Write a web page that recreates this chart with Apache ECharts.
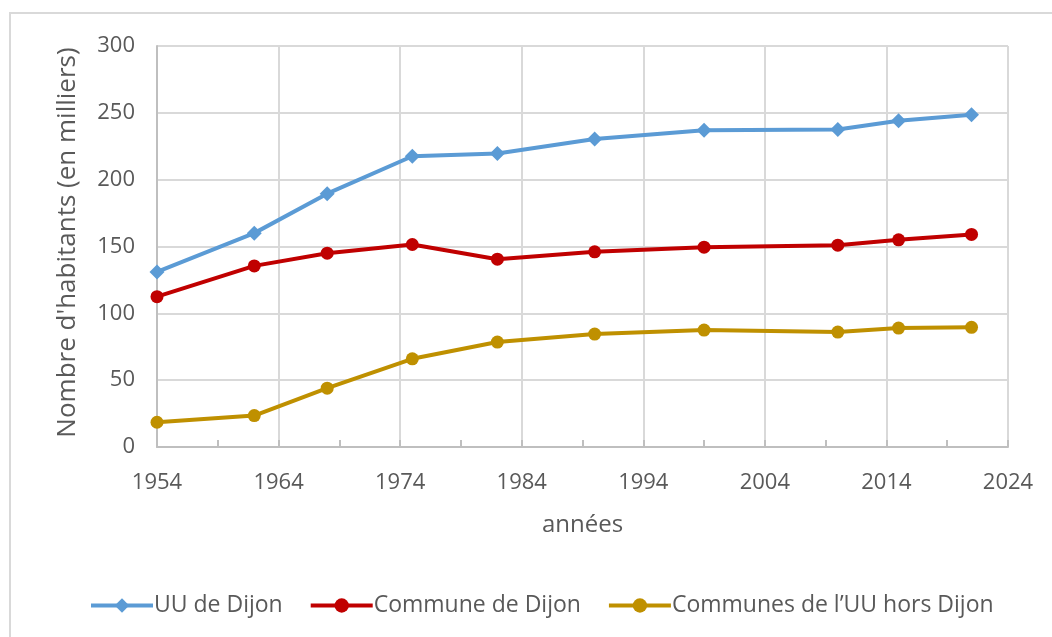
<!DOCTYPE html>
<html>
<head>
<meta charset="utf-8">
<script src="https://cdn.jsdelivr.net/npm/echarts@6/dist/echarts.min.js"></script>
<style>
html,body{margin:0;padding:0;background:#fff;}
#chart{width:1052px;height:637px;}
</style>
</head>
<body>
<div id="chart"></div>
<script>
const years = [1954, 1962, 1968, 1975, 1982, 1990, 1999, 2010, 2015, 2021];
const uuDijon = [131, 160, 189.5, 217.5, 219.5, 230.5, 237, 237.5, 244, 248.5];
const communeDijon = [112.5, 135.5, 145, 151.5, 140.5, 146, 149.5, 151, 155, 159];
const horsDijon = [18.5, 23.5, 44, 66, 78.5, 84.5, 87.5, 86, 89, 89.5];
const seriesNames = ['UU de Dijon', 'Commune de Dijon', 'Communes de l\u2019UU hors Dijon'];
const xAxisName = 'années';
const yAxisName = "Nombre d'habitants (en milliers)";

const pairs = arr => years.map((y, i) => [y, arr[i]]);
const FONT = '"Open Sans", sans-serif';
const TXT = '#595959';

const chart = echarts.init(document.getElementById('chart'), null, {renderer: 'canvas'});
chart.setOption({
  animation: false,
  backgroundColor: '#ffffff',
  graphic: [{
    type: 'rect', silent: true, z: -10,
    shape: {x: 10, y: 13, width: 1100, height: 700},
    style: {fill: 'none', stroke: '#d9d9d9', lineWidth: 2}
  }],
  grid: {left: 157, top: 46, width: 851, height: 401, containLabel: false},
  legend: {
    left: 84, top: 589,
    itemWidth: 62, itemHeight: 18, itemGap: 26,
    lineStyle: {width: 4},
    textStyle: {fontFamily: FONT, fontSize: 23, color: TXT, padding: [0, 0, 0, -4]},
    data: seriesNames
  },
  xAxis: [{
    type: 'value', min: 1954, max: 2024, interval: 10,
    name: xAxisName, nameLocation: 'middle', nameGap: 66,
    nameTextStyle: {fontFamily: FONT, fontSize: 24, color: TXT},
    axisLine: {show: true, lineStyle: {color: '#bfbfbf', width: 2}},
    axisTick: {show: false},
    axisLabel: {fontFamily: FONT, fontSize: 22, color: TXT, margin: 25, formatter: v => String(v)},
    splitLine: {show: true, lineStyle: {color: '#d9d9d9', width: 2}}
  }, {
    type: 'value', min: 1954, max: 2024, interval: 5, position: 'bottom',
    axisLine: {show: false},
    axisTick: {show: true, inside: true, length: 7, lineStyle: {color: '#bfbfbf', width: 2}},
    axisLabel: {show: false},
    splitLine: {show: false}
  }],
  yAxis: {
    type: 'value', min: 0, max: 300, interval: 50,
    name: yAxisName, nameLocation: 'middle', nameGap: 76, nameRotate: 90,
    nameTextStyle: {fontFamily: FONT, fontSize: 26, color: TXT, padding: [0, 0, 0, 8]},
    axisLine: {show: true, lineStyle: {color: '#bfbfbf', width: 2}},
    axisTick: {show: false},
    axisLabel: {fontFamily: FONT, fontSize: 22, color: TXT, margin: 22},
    splitLine: {show: true, lineStyle: {color: '#d9d9d9', width: 2}}
  },
  series: [
    {
      name: seriesNames[0], type: 'line', data: pairs(uuDijon),
      symbol: 'diamond', symbolSize: 15,
      lineStyle: {color: '#5b9bd5', width: 4},
      itemStyle: {color: '#5b9bd5'}, z: 3
    },
    {
      name: seriesNames[1], type: 'line', data: pairs(communeDijon),
      symbol: 'circle', symbolSize: 13,
      lineStyle: {color: '#c00000', width: 4},
      itemStyle: {color: '#c00000'}, z: 3
    },
    {
      name: seriesNames[2], type: 'line', data: pairs(horsDijon),
      symbol: 'circle', symbolSize: 13,
      lineStyle: {color: '#bf9000', width: 4},
      itemStyle: {color: '#bf9000'}, z: 3
    }
  ]
});
</script>
</body>
</html>
